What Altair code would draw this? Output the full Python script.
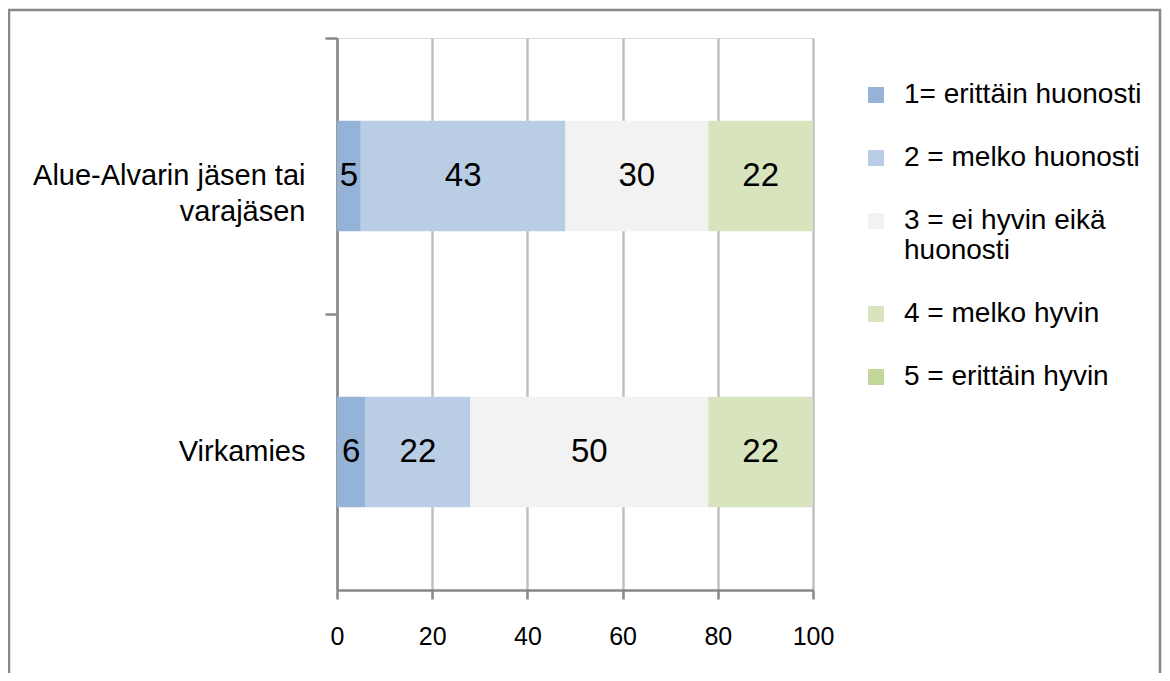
import altair as alt
import pandas as pd

groups = ["Alue-Alvarin jäsen tai varajäsen", "Virkamies"]
answers = ["1= erittäin huonosti", "2 = melko huonosti", "3 = ei hyvin eikä huonosti",
           "4 = melko hyvin", "5 = erittäin hyvin"]
colors = ["#95B3D7", "#B9CDE5", "#F2F2F2", "#D7E4BD", "#C3D69B"]
values_group1 = [5, 43, 30, 22, 0]
values_group2 = [6, 22, 50, 22, 0]
x_ticks = [0, 20, 40, 60, 80, 100]

rows = []
for g, vals in zip(groups, [values_group1, values_group2]):
    for i, (a, v) in enumerate(zip(answers, vals)):
        rows.append({"group": g, "answer": a, "order": i, "value": v})
df = pd.DataFrame(rows)

FONT = "Liberation Sans"
W, H = 476, 552

yscale = alt.Scale(domain=groups, paddingInner=0, paddingOuter=0)

bars = alt.Chart(df).mark_bar(height={"band": 0.4}).encode(
    x=alt.X("value:Q", stack="zero",
            scale=alt.Scale(domain=[0, 100], nice=False),
            axis=alt.Axis(values=x_ticks, title=None, grid=True, gridColor="#C0C0C0",
                          gridWidth=2.5, domainColor="#888888", domainWidth=2.5,
                          tickColor="#888888", tickWidth=2.5, tickSize=9,
                          labelFont=FONT, labelFontSize=25, labelColor="#000000",
                          labelPadding=25, labelFlush=False)),
    y=alt.Y("group:N", scale=yscale, sort=groups,
            axis=alt.Axis(orient="left", title=None, labels=False, bandPosition=0,
                          ticks=True, tickSize=12, tickColor="#888888", tickWidth=2.5,
                          domainColor="#888888", domainWidth=2.5, grid=False)),
    color=alt.Color("answer:N", scale=alt.Scale(domain=answers, range=colors),
                    legend=alt.Legend(title=None, orient="none", legendX=525, legendY=43,
                                      symbolType="square", symbolSize=256,
                                      symbolStrokeWidth=0, labelFont=FONT,
                                      labelFontSize=28, labelColor="#000000",
                                      labelLimit=400, rowPadding=35, labelOffset=14,
                                      labelExpr="datum.label == '3 = ei hyvin eikä huonosti' ? ['3 = ei hyvin eikä', 'huonosti'] : datum.label")),
    order=alt.Order("order:Q"),
)

labels = alt.Chart(df).transform_filter("datum.value > 0").transform_stack(
    stack="value", groupby=["group"], sort=[alt.SortField("order")], as_=["v0", "v1"]
).transform_calculate(mid="(datum.v0 + datum.v1) / 2").mark_text(
    font=FONT, fontSize=33, color="#000000", baseline="middle", align="center"
).encode(
    x=alt.X("mid:Q"),
    y=alt.Y("group:N", scale=yscale, sort=groups,
            axis=alt.Axis(orient="left", title=None, ticks=False, domain=False,
                          labelFont=FONT, labelFontSize=29, labelColor="#000000",
                          labelPadding=32, labelLineHeight=36, labelLimit=400,
                          labelExpr="datum.label == 'Alue-Alvarin jäsen tai varajäsen' ? ['Alue-Alvarin jäsen tai', 'varajäsen'] : datum.label")),
    text=alt.Text("value:Q"),
)

border = alt.Chart(pd.DataFrame({"b": [0]})).mark_rect(
    fill=None, stroke="#888888", strokeWidth=2.5
).encode(
    x=alt.value(-328), x2=alt.value(823), y=alt.value(-28), y2=alt.value(700)
)

chart = alt.layer(border, bars, labels).resolve_axis(y="independent").properties(
    width=W, height=H,
    autosize=alt.AutoSizeParams(type="none"),
    padding={"left": 329, "top": 30, "right": 349, "bottom": 83},
).configure_view(stroke=None).configure(background="#ffffff")

chart.save("out.html", embed_options={"renderer": "svg", "actions": False})
